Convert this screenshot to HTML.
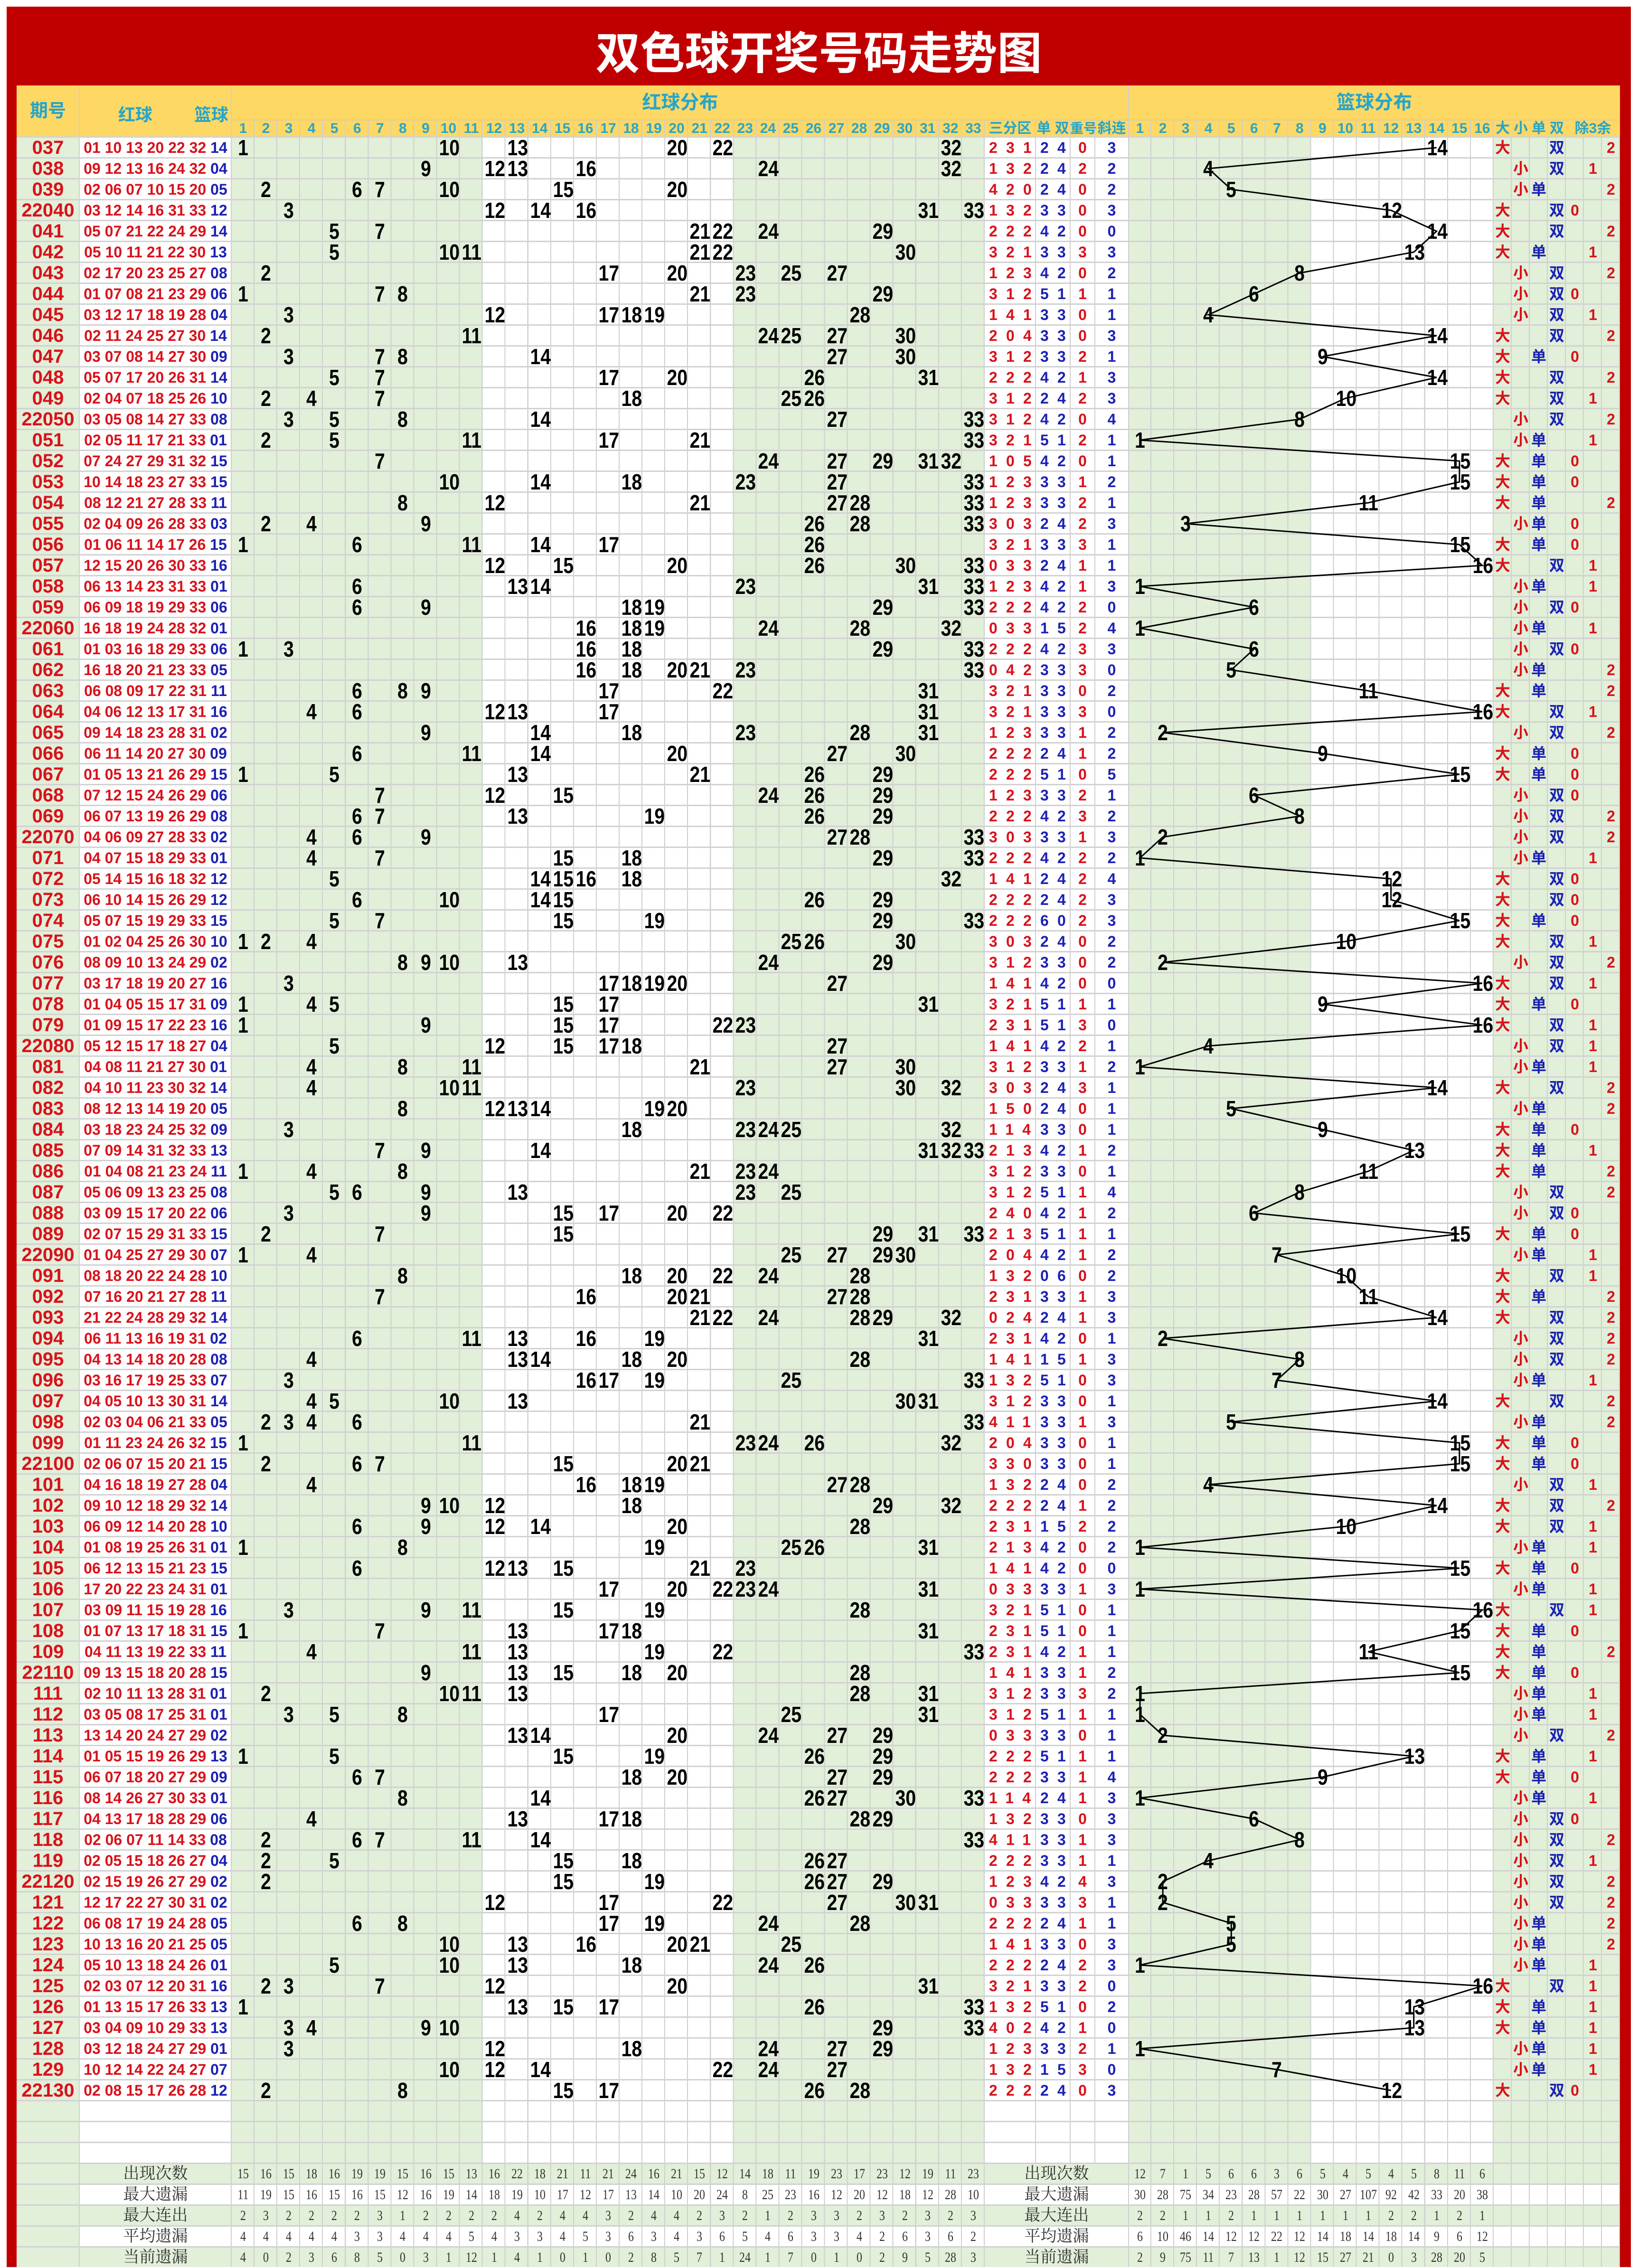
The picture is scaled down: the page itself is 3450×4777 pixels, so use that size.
<!DOCTYPE html>
<html><head><meta charset="utf-8">
<style>
body{margin:0;width:3450px;height:4775px;position:relative;overflow:hidden;background:#fff;font-family:"Liberation Sans","Noto Sans CJK SC",sans-serif}
.a{position:absolute}
.G{background:#e2efd9}.W{background:#fff}
#rows{position:absolute;left:0;top:289px;width:3450px}
.r{position:relative;height:44px}
.r>*{position:absolute;top:0;height:44px;line-height:44px;margin:0;text-align:center;font-style:normal;text-decoration:none;white-space:pre;font-weight:bold}
.r b{left:35px;width:132px;color:#d8121b;font-size:40px}
.r p{left:167px;width:321px;color:#d8121b;font-size:32px}
.r p u{color:#1b22b3;text-decoration:none}
.r i{width:48px;font-size:46px;color:#000;transform:scaleX(.85)}
.r s{left:2083px;text-align:left;font-size:32px;color:#d8121b;letter-spacing:18.2px}
.r s.v{left:2191px;color:#1b22b3}
.r kbd{left:2254px;width:52px;font-family:"Liberation Sans",sans-serif;font-size:32px;color:#d8121b}
.r var{left:2306px;width:71px;font-size:32px;color:#1b22b3}
.r em{width:38px;font-size:32px;font-family:"Liberation Sans","Noto Sans CJK SC",sans-serif}
.D{left:3146px;color:#d8121b}.X{left:3184px;color:#d8121b}.O{left:3222px;color:#1b22b3}.E{left:3260px;color:#1b22b3}
.m0{left:3298px;color:#d8121b}.m1{left:3336px;color:#d8121b}.m2{left:3374px;color:#d8121b}
.c1{left:488px}.c2{left:536.1px}.c3{left:584.1px}.c4{left:632.2px}.c5{left:680.2px}.c6{left:728.3px}.c7{left:776.4px}.c8{left:824.4px}.c9{left:872.5px}.c10{left:920.5px}.c11{left:968.6px}.c12{left:1016.7px}.c13{left:1064.7px}.c14{left:1112.8px}.c15{left:1160.8px}.c16{left:1208.9px}.c17{left:1257px}.c18{left:1305px}.c19{left:1353.1px}.c20{left:1401.1px}.c21{left:1449.2px}.c22{left:1497.3px}.c23{left:1545.3px}.c24{left:1593.4px}.c25{left:1641.4px}.c26{left:1689.5px}.c27{left:1737.6px}.c28{left:1785.6px}.c29{left:1833.7px}.c30{left:1881.7px}.c31{left:1929.8px}.c32{left:1977.9px}.c33{left:2025.9px}
.d1{left:2377px}.d2{left:2425.1px}.d3{left:2473.1px}.d4{left:2521.2px}.d5{left:2569.2px}.d6{left:2617.3px}.d7{left:2665.4px}.d8{left:2713.4px}.d9{left:2761.5px}.d10{left:2809.5px}.d11{left:2857.6px}.d12{left:2905.7px}.d13{left:2953.7px}.d14{left:3001.8px}.d15{left:3049.8px}.d16{left:3097.9px}
.h{position:absolute;left:0;top:253px;width:3450px;height:36px}
.h>*{position:absolute;top:0;height:36px;line-height:36px;text-align:center;color:#27a5c9;font-weight:bold;font-size:30px;font-style:normal;margin:0;white-space:nowrap}
.h i{width:48px}
.hd{position:absolute;color:#27a5c9;font-weight:bold;text-align:center;margin:0}
#st{position:absolute;left:0;top:4557px;width:3450px}
.t{position:relative;height:44px}
.t>*{position:absolute;top:0;height:44px;line-height:44px;text-align:center;font-family:"Liberation Serif","Noto Serif CJK SC",serif;font-size:30px;color:#333;margin:0;font-style:normal}
.t i{width:48px;transform:scaleX(.8)}
.t p{left:167px;width:321px;font-size:34px}
.t p.q{left:2074px;width:303px}
</style></head><body>
<div class="a" style="left:14px;top:14px;width:3421px;height:4761px;background:#c00000"></div>
<div class="a" style="left:14px;top:63px;width:3421px;height:100px;line-height:100px;text-align:center;color:#fff;font-weight:bold;font-size:94px">双色球开奖号码走势图</div>
<div class="a" style="left:35px;top:180px;width:3377px;height:109px;background:#fdd865"></div>
<div class="a G" style="left:35px;top:289px;width:132px;height:4486px"></div>
<div class="a W" style="left:167px;top:289px;width:321px;height:4268px"></div>
<div class="a G" style="left:488px;top:289px;width:529px;height:4268px"></div>
<div class="a W" style="left:1017px;top:289px;width:528px;height:4268px"></div>
<div class="a G" style="left:1545px;top:289px;width:529px;height:4268px"></div>
<div class="a W" style="left:2074px;top:289px;width:303px;height:4268px"></div>
<div class="a G" style="left:2377px;top:289px;width:384px;height:4268px"></div>
<div class="a W" style="left:2761px;top:289px;width:385px;height:4268px"></div>
<div class="a G" style="left:3146px;top:289px;width:266px;height:4268px"></div>
<div class="a G" style="left:167px;top:4557px;width:3245px;height:44px"></div>
<div class="a W" style="left:167px;top:4601px;width:3245px;height:44px"></div>
<div class="a G" style="left:167px;top:4645px;width:3245px;height:44px"></div>
<div class="a W" style="left:167px;top:4689px;width:3245px;height:44px"></div>
<div class="a G" style="left:167px;top:4733px;width:3245px;height:42px"></div>
<div class="a" style="left:488px;top:253px;width:1586px;height:4522px;background:repeating-linear-gradient(90deg,transparent 0 46px,#cfcfcf 46px 48.06px)"></div>
<div class="a" style="left:2377px;top:253px;width:769px;height:4522px;background:repeating-linear-gradient(90deg,transparent 0 46px,#cfcfcf 46px 48.06px)"></div>
<div class="a" style="left:3146px;top:289px;width:266px;height:4486px;background:repeating-linear-gradient(90deg,transparent 0 36px,#cfcfcf 36px 38px)"></div>
<div class="a" style="left:486px;top:180px;width:2px;height:4595px;background:#cfcfcf"></div>
<div class="a" style="left:166px;top:180px;width:2px;height:4595px;background:#cfcfcf"></div>
<div class="a" style="left:2180px;top:253px;width:2px;height:4304px;background:#cfcfcf"></div>
<div class="a" style="left:2253px;top:253px;width:2px;height:4304px;background:#cfcfcf"></div>
<div class="a" style="left:2305px;top:253px;width:2px;height:4304px;background:#cfcfcf"></div>
<div class="a" style="left:2376px;top:180px;width:2px;height:4595px;background:#cfcfcf"></div>
<div class="a" style="left:488px;top:252px;width:2924px;height:2px;background:#e3cf8a"></div>
<div class="a" style="left:35px;top:287px;width:3377px;height:4488px;background:repeating-linear-gradient(180deg,#d2d2d2 0 3px,transparent 3px 44px)"></div>
<div class="hd" style="left:35px;top:180px;width:132px;height:109px;line-height:109px;font-size:38px">期号</div>
<div class="hd" style="left:230px;top:220px;width:110px;line-height:44px;font-size:36px">红球</div>
<div class="hd" style="left:390px;top:220px;width:110px;line-height:44px;font-size:36px">篮球</div>
<div class="hd" style="left:488px;top:190px;width:1889px;line-height:52px;font-size:40px">红球分布</div>
<div class="hd" style="left:2377px;top:190px;width:1035px;line-height:52px;font-size:40px">篮球分布</div>
<div class="h"><i class="c1">1</i><i class="c2">2</i><i class="c3">3</i><i class="c4">4</i><i class="c5">5</i><i class="c6">6</i><i class="c7">7</i><i class="c8">8</i><i class="c9">9</i><i class="c10">10</i><i class="c11">11</i><i class="c12">12</i><i class="c13">13</i><i class="c14">14</i><i class="c15">15</i><i class="c16">16</i><i class="c17">17</i><i class="c18">18</i><i class="c19">19</i><i class="c20">20</i><i class="c21">21</i><i class="c22">22</i><i class="c23">23</i><i class="c24">24</i><i class="c25">25</i><i class="c26">26</i><i class="c27">27</i><i class="c28">28</i><i class="c29">29</i><i class="c30">30</i><i class="c31">31</i><i class="c32">32</i><i class="c33">33</i>
<span style="left:2074px;width:107px">三分区</span><span style="left:2181px;width:73px">单 双</span><span style="left:2254px;width:52px;font-size:28px">重号</span><span style="left:2306px;width:71px">斜连</span>
<i class="d1">1</i><i class="d2">2</i><i class="d3">3</i><i class="d4">4</i><i class="d5">5</i><i class="d6">6</i><i class="d7">7</i><i class="d8">8</i><i class="d9">9</i><i class="d10">10</i><i class="d11">11</i><i class="d12">12</i><i class="d13">13</i><i class="d14">14</i><i class="d15">15</i><i class="d16">16</i>
<span style="left:3146px;width:38px">大</span><span style="left:3184px;width:38px">小</span><span style="left:3222px;width:38px">单</span><span style="left:3260px;width:38px">双</span><span style="left:3298px;width:114px">除3余</span></div>
<svg class="a" style="left:0;top:0" width="3450" height="4775"><g transform="translate(2353,267) scale(48.06,44)"><polyline fill="none" stroke="#000" stroke-width="3" vector-effect="non-scaling-stroke" points="14,1 4,2 5,3 12,4 14,5 13,6 8,7 6,8 4,9 14,10 9,11 14,12 10,13 8,14 1,15 15,16 15,17 11,18 3,19 15,20 16,21 1,22 6,23 1,24 6,25 5,26 11,27 16,28 2,29 9,30 15,31 6,32 8,33 2,34 1,35 12,36 12,37 15,38 10,39 2,40 16,41 9,42 16,43 4,44 1,45 14,46 5,47 9,48 13,49 11,50 8,51 6,52 15,53 7,54 10,55 11,56 14,57 2,58 8,59 7,60 14,61 5,62 15,63 15,64 4,65 14,66 10,67 1,68 15,69 1,70 16,71 15,72 11,73 15,74 1,75 1,76 2,77 13,78 9,79 1,80 6,81 8,82 4,83 2,84 2,85 5,86 5,87 1,88 16,89 13,90 13,91 1,92 7,93 12,94"/></g></svg>
<div id="rows">
<div class="r"><b>037</b><p>01 10 13 20 22 32 <u>14</u></p><i class="c1">1</i><i class="c10">10</i><i class="c13">13</i><i class="c20">20</i><i class="c22">22</i><i class="c32">32</i><s>231</s><s class="v">24</s><kbd>0</kbd><var>3</var><i class="d14">14</i><em class="D">大</em><em class="E">双</em><em class="m2">2</em></div>
<div class="r"><b>038</b><p>09 12 13 16 24 32 <u>04</u></p><i class="c9">9</i><i class="c12">12</i><i class="c13">13</i><i class="c16">16</i><i class="c24">24</i><i class="c32">32</i><s>132</s><s class="v">24</s><kbd>2</kbd><var>2</var><i class="d4">4</i><em class="X">小</em><em class="E">双</em><em class="m1">1</em></div>
<div class="r"><b>039</b><p>02 06 07 10 15 20 <u>05</u></p><i class="c2">2</i><i class="c6">6</i><i class="c7">7</i><i class="c10">10</i><i class="c15">15</i><i class="c20">20</i><s>420</s><s class="v">24</s><kbd>0</kbd><var>2</var><i class="d5">5</i><em class="X">小</em><em class="O">单</em><em class="m2">2</em></div>
<div class="r"><b>22040</b><p>03 12 14 16 31 33 <u>12</u></p><i class="c3">3</i><i class="c12">12</i><i class="c14">14</i><i class="c16">16</i><i class="c31">31</i><i class="c33">33</i><s>132</s><s class="v">33</s><kbd>0</kbd><var>3</var><i class="d12">12</i><em class="D">大</em><em class="E">双</em><em class="m0">0</em></div>
<div class="r"><b>041</b><p>05 07 21 22 24 29 <u>14</u></p><i class="c5">5</i><i class="c7">7</i><i class="c21">21</i><i class="c22">22</i><i class="c24">24</i><i class="c29">29</i><s>222</s><s class="v">42</s><kbd>0</kbd><var>0</var><i class="d14">14</i><em class="D">大</em><em class="E">双</em><em class="m2">2</em></div>
<div class="r"><b>042</b><p>05 10 11 21 22 30 <u>13</u></p><i class="c5">5</i><i class="c10">10</i><i class="c11">11</i><i class="c21">21</i><i class="c22">22</i><i class="c30">30</i><s>321</s><s class="v">33</s><kbd>3</kbd><var>3</var><i class="d13">13</i><em class="D">大</em><em class="O">单</em><em class="m1">1</em></div>
<div class="r"><b>043</b><p>02 17 20 23 25 27 <u>08</u></p><i class="c2">2</i><i class="c17">17</i><i class="c20">20</i><i class="c23">23</i><i class="c25">25</i><i class="c27">27</i><s>123</s><s class="v">42</s><kbd>0</kbd><var>2</var><i class="d8">8</i><em class="X">小</em><em class="E">双</em><em class="m2">2</em></div>
<div class="r"><b>044</b><p>01 07 08 21 23 29 <u>06</u></p><i class="c1">1</i><i class="c7">7</i><i class="c8">8</i><i class="c21">21</i><i class="c23">23</i><i class="c29">29</i><s>312</s><s class="v">51</s><kbd>1</kbd><var>1</var><i class="d6">6</i><em class="X">小</em><em class="E">双</em><em class="m0">0</em></div>
<div class="r"><b>045</b><p>03 12 17 18 19 28 <u>04</u></p><i class="c3">3</i><i class="c12">12</i><i class="c17">17</i><i class="c18">18</i><i class="c19">19</i><i class="c28">28</i><s>141</s><s class="v">33</s><kbd>0</kbd><var>1</var><i class="d4">4</i><em class="X">小</em><em class="E">双</em><em class="m1">1</em></div>
<div class="r"><b>046</b><p>02 11 24 25 27 30 <u>14</u></p><i class="c2">2</i><i class="c11">11</i><i class="c24">24</i><i class="c25">25</i><i class="c27">27</i><i class="c30">30</i><s>204</s><s class="v">33</s><kbd>0</kbd><var>3</var><i class="d14">14</i><em class="D">大</em><em class="E">双</em><em class="m2">2</em></div>
<div class="r"><b>047</b><p>03 07 08 14 27 30 <u>09</u></p><i class="c3">3</i><i class="c7">7</i><i class="c8">8</i><i class="c14">14</i><i class="c27">27</i><i class="c30">30</i><s>312</s><s class="v">33</s><kbd>2</kbd><var>1</var><i class="d9">9</i><em class="D">大</em><em class="O">单</em><em class="m0">0</em></div>
<div class="r"><b>048</b><p>05 07 17 20 26 31 <u>14</u></p><i class="c5">5</i><i class="c7">7</i><i class="c17">17</i><i class="c20">20</i><i class="c26">26</i><i class="c31">31</i><s>222</s><s class="v">42</s><kbd>1</kbd><var>3</var><i class="d14">14</i><em class="D">大</em><em class="E">双</em><em class="m2">2</em></div>
<div class="r"><b>049</b><p>02 04 07 18 25 26 <u>10</u></p><i class="c2">2</i><i class="c4">4</i><i class="c7">7</i><i class="c18">18</i><i class="c25">25</i><i class="c26">26</i><s>312</s><s class="v">24</s><kbd>2</kbd><var>3</var><i class="d10">10</i><em class="D">大</em><em class="E">双</em><em class="m1">1</em></div>
<div class="r"><b>22050</b><p>03 05 08 14 27 33 <u>08</u></p><i class="c3">3</i><i class="c5">5</i><i class="c8">8</i><i class="c14">14</i><i class="c27">27</i><i class="c33">33</i><s>312</s><s class="v">42</s><kbd>0</kbd><var>4</var><i class="d8">8</i><em class="X">小</em><em class="E">双</em><em class="m2">2</em></div>
<div class="r"><b>051</b><p>02 05 11 17 21 33 <u>01</u></p><i class="c2">2</i><i class="c5">5</i><i class="c11">11</i><i class="c17">17</i><i class="c21">21</i><i class="c33">33</i><s>321</s><s class="v">51</s><kbd>2</kbd><var>1</var><i class="d1">1</i><em class="X">小</em><em class="O">单</em><em class="m1">1</em></div>
<div class="r"><b>052</b><p>07 24 27 29 31 32 <u>15</u></p><i class="c7">7</i><i class="c24">24</i><i class="c27">27</i><i class="c29">29</i><i class="c31">31</i><i class="c32">32</i><s>105</s><s class="v">42</s><kbd>0</kbd><var>1</var><i class="d15">15</i><em class="D">大</em><em class="O">单</em><em class="m0">0</em></div>
<div class="r"><b>053</b><p>10 14 18 23 27 33 <u>15</u></p><i class="c10">10</i><i class="c14">14</i><i class="c18">18</i><i class="c23">23</i><i class="c27">27</i><i class="c33">33</i><s>123</s><s class="v">33</s><kbd>1</kbd><var>2</var><i class="d15">15</i><em class="D">大</em><em class="O">单</em><em class="m0">0</em></div>
<div class="r"><b>054</b><p>08 12 21 27 28 33 <u>11</u></p><i class="c8">8</i><i class="c12">12</i><i class="c21">21</i><i class="c27">27</i><i class="c28">28</i><i class="c33">33</i><s>123</s><s class="v">33</s><kbd>2</kbd><var>1</var><i class="d11">11</i><em class="D">大</em><em class="O">单</em><em class="m2">2</em></div>
<div class="r"><b>055</b><p>02 04 09 26 28 33 <u>03</u></p><i class="c2">2</i><i class="c4">4</i><i class="c9">9</i><i class="c26">26</i><i class="c28">28</i><i class="c33">33</i><s>303</s><s class="v">24</s><kbd>2</kbd><var>3</var><i class="d3">3</i><em class="X">小</em><em class="O">单</em><em class="m0">0</em></div>
<div class="r"><b>056</b><p>01 06 11 14 17 26 <u>15</u></p><i class="c1">1</i><i class="c6">6</i><i class="c11">11</i><i class="c14">14</i><i class="c17">17</i><i class="c26">26</i><s>321</s><s class="v">33</s><kbd>3</kbd><var>1</var><i class="d15">15</i><em class="D">大</em><em class="O">单</em><em class="m0">0</em></div>
<div class="r"><b>057</b><p>12 15 20 26 30 33 <u>16</u></p><i class="c12">12</i><i class="c15">15</i><i class="c20">20</i><i class="c26">26</i><i class="c30">30</i><i class="c33">33</i><s>033</s><s class="v">24</s><kbd>1</kbd><var>1</var><i class="d16">16</i><em class="D">大</em><em class="E">双</em><em class="m1">1</em></div>
<div class="r"><b>058</b><p>06 13 14 23 31 33 <u>01</u></p><i class="c6">6</i><i class="c13">13</i><i class="c14">14</i><i class="c23">23</i><i class="c31">31</i><i class="c33">33</i><s>123</s><s class="v">42</s><kbd>1</kbd><var>3</var><i class="d1">1</i><em class="X">小</em><em class="O">单</em><em class="m1">1</em></div>
<div class="r"><b>059</b><p>06 09 18 19 29 33 <u>06</u></p><i class="c6">6</i><i class="c9">9</i><i class="c18">18</i><i class="c19">19</i><i class="c29">29</i><i class="c33">33</i><s>222</s><s class="v">42</s><kbd>2</kbd><var>0</var><i class="d6">6</i><em class="X">小</em><em class="E">双</em><em class="m0">0</em></div>
<div class="r"><b>22060</b><p>16 18 19 24 28 32 <u>01</u></p><i class="c16">16</i><i class="c18">18</i><i class="c19">19</i><i class="c24">24</i><i class="c28">28</i><i class="c32">32</i><s>033</s><s class="v">15</s><kbd>2</kbd><var>4</var><i class="d1">1</i><em class="X">小</em><em class="O">单</em><em class="m1">1</em></div>
<div class="r"><b>061</b><p>01 03 16 18 29 33 <u>06</u></p><i class="c1">1</i><i class="c3">3</i><i class="c16">16</i><i class="c18">18</i><i class="c29">29</i><i class="c33">33</i><s>222</s><s class="v">42</s><kbd>3</kbd><var>3</var><i class="d6">6</i><em class="X">小</em><em class="E">双</em><em class="m0">0</em></div>
<div class="r"><b>062</b><p>16 18 20 21 23 33 <u>05</u></p><i class="c16">16</i><i class="c18">18</i><i class="c20">20</i><i class="c21">21</i><i class="c23">23</i><i class="c33">33</i><s>042</s><s class="v">33</s><kbd>3</kbd><var>0</var><i class="d5">5</i><em class="X">小</em><em class="O">单</em><em class="m2">2</em></div>
<div class="r"><b>063</b><p>06 08 09 17 22 31 <u>11</u></p><i class="c6">6</i><i class="c8">8</i><i class="c9">9</i><i class="c17">17</i><i class="c22">22</i><i class="c31">31</i><s>321</s><s class="v">33</s><kbd>0</kbd><var>2</var><i class="d11">11</i><em class="D">大</em><em class="O">单</em><em class="m2">2</em></div>
<div class="r"><b>064</b><p>04 06 12 13 17 31 <u>16</u></p><i class="c4">4</i><i class="c6">6</i><i class="c12">12</i><i class="c13">13</i><i class="c17">17</i><i class="c31">31</i><s>321</s><s class="v">33</s><kbd>3</kbd><var>0</var><i class="d16">16</i><em class="D">大</em><em class="E">双</em><em class="m1">1</em></div>
<div class="r"><b>065</b><p>09 14 18 23 28 31 <u>02</u></p><i class="c9">9</i><i class="c14">14</i><i class="c18">18</i><i class="c23">23</i><i class="c28">28</i><i class="c31">31</i><s>123</s><s class="v">33</s><kbd>1</kbd><var>2</var><i class="d2">2</i><em class="X">小</em><em class="E">双</em><em class="m2">2</em></div>
<div class="r"><b>066</b><p>06 11 14 20 27 30 <u>09</u></p><i class="c6">6</i><i class="c11">11</i><i class="c14">14</i><i class="c20">20</i><i class="c27">27</i><i class="c30">30</i><s>222</s><s class="v">24</s><kbd>1</kbd><var>2</var><i class="d9">9</i><em class="D">大</em><em class="O">单</em><em class="m0">0</em></div>
<div class="r"><b>067</b><p>01 05 13 21 26 29 <u>15</u></p><i class="c1">1</i><i class="c5">5</i><i class="c13">13</i><i class="c21">21</i><i class="c26">26</i><i class="c29">29</i><s>222</s><s class="v">51</s><kbd>0</kbd><var>5</var><i class="d15">15</i><em class="D">大</em><em class="O">单</em><em class="m0">0</em></div>
<div class="r"><b>068</b><p>07 12 15 24 26 29 <u>06</u></p><i class="c7">7</i><i class="c12">12</i><i class="c15">15</i><i class="c24">24</i><i class="c26">26</i><i class="c29">29</i><s>123</s><s class="v">33</s><kbd>2</kbd><var>1</var><i class="d6">6</i><em class="X">小</em><em class="E">双</em><em class="m0">0</em></div>
<div class="r"><b>069</b><p>06 07 13 19 26 29 <u>08</u></p><i class="c6">6</i><i class="c7">7</i><i class="c13">13</i><i class="c19">19</i><i class="c26">26</i><i class="c29">29</i><s>222</s><s class="v">42</s><kbd>3</kbd><var>2</var><i class="d8">8</i><em class="X">小</em><em class="E">双</em><em class="m2">2</em></div>
<div class="r"><b>22070</b><p>04 06 09 27 28 33 <u>02</u></p><i class="c4">4</i><i class="c6">6</i><i class="c9">9</i><i class="c27">27</i><i class="c28">28</i><i class="c33">33</i><s>303</s><s class="v">33</s><kbd>1</kbd><var>3</var><i class="d2">2</i><em class="X">小</em><em class="E">双</em><em class="m2">2</em></div>
<div class="r"><b>071</b><p>04 07 15 18 29 33 <u>01</u></p><i class="c4">4</i><i class="c7">7</i><i class="c15">15</i><i class="c18">18</i><i class="c29">29</i><i class="c33">33</i><s>222</s><s class="v">42</s><kbd>2</kbd><var>2</var><i class="d1">1</i><em class="X">小</em><em class="O">单</em><em class="m1">1</em></div>
<div class="r"><b>072</b><p>05 14 15 16 18 32 <u>12</u></p><i class="c5">5</i><i class="c14">14</i><i class="c15">15</i><i class="c16">16</i><i class="c18">18</i><i class="c32">32</i><s>141</s><s class="v">24</s><kbd>2</kbd><var>4</var><i class="d12">12</i><em class="D">大</em><em class="E">双</em><em class="m0">0</em></div>
<div class="r"><b>073</b><p>06 10 14 15 26 29 <u>12</u></p><i class="c6">6</i><i class="c10">10</i><i class="c14">14</i><i class="c15">15</i><i class="c26">26</i><i class="c29">29</i><s>222</s><s class="v">24</s><kbd>2</kbd><var>3</var><i class="d12">12</i><em class="D">大</em><em class="E">双</em><em class="m0">0</em></div>
<div class="r"><b>074</b><p>05 07 15 19 29 33 <u>15</u></p><i class="c5">5</i><i class="c7">7</i><i class="c15">15</i><i class="c19">19</i><i class="c29">29</i><i class="c33">33</i><s>222</s><s class="v">60</s><kbd>2</kbd><var>3</var><i class="d15">15</i><em class="D">大</em><em class="O">单</em><em class="m0">0</em></div>
<div class="r"><b>075</b><p>01 02 04 25 26 30 <u>10</u></p><i class="c1">1</i><i class="c2">2</i><i class="c4">4</i><i class="c25">25</i><i class="c26">26</i><i class="c30">30</i><s>303</s><s class="v">24</s><kbd>0</kbd><var>2</var><i class="d10">10</i><em class="D">大</em><em class="E">双</em><em class="m1">1</em></div>
<div class="r"><b>076</b><p>08 09 10 13 24 29 <u>02</u></p><i class="c8">8</i><i class="c9">9</i><i class="c10">10</i><i class="c13">13</i><i class="c24">24</i><i class="c29">29</i><s>312</s><s class="v">33</s><kbd>0</kbd><var>2</var><i class="d2">2</i><em class="X">小</em><em class="E">双</em><em class="m2">2</em></div>
<div class="r"><b>077</b><p>03 17 18 19 20 27 <u>16</u></p><i class="c3">3</i><i class="c17">17</i><i class="c18">18</i><i class="c19">19</i><i class="c20">20</i><i class="c27">27</i><s>141</s><s class="v">42</s><kbd>0</kbd><var>0</var><i class="d16">16</i><em class="D">大</em><em class="E">双</em><em class="m1">1</em></div>
<div class="r"><b>078</b><p>01 04 05 15 17 31 <u>09</u></p><i class="c1">1</i><i class="c4">4</i><i class="c5">5</i><i class="c15">15</i><i class="c17">17</i><i class="c31">31</i><s>321</s><s class="v">51</s><kbd>1</kbd><var>1</var><i class="d9">9</i><em class="D">大</em><em class="O">单</em><em class="m0">0</em></div>
<div class="r"><b>079</b><p>01 09 15 17 22 23 <u>16</u></p><i class="c1">1</i><i class="c9">9</i><i class="c15">15</i><i class="c17">17</i><i class="c22">22</i><i class="c23">23</i><s>231</s><s class="v">51</s><kbd>3</kbd><var>0</var><i class="d16">16</i><em class="D">大</em><em class="E">双</em><em class="m1">1</em></div>
<div class="r"><b>22080</b><p>05 12 15 17 18 27 <u>04</u></p><i class="c5">5</i><i class="c12">12</i><i class="c15">15</i><i class="c17">17</i><i class="c18">18</i><i class="c27">27</i><s>141</s><s class="v">42</s><kbd>2</kbd><var>1</var><i class="d4">4</i><em class="X">小</em><em class="E">双</em><em class="m1">1</em></div>
<div class="r"><b>081</b><p>04 08 11 21 27 30 <u>01</u></p><i class="c4">4</i><i class="c8">8</i><i class="c11">11</i><i class="c21">21</i><i class="c27">27</i><i class="c30">30</i><s>312</s><s class="v">33</s><kbd>1</kbd><var>2</var><i class="d1">1</i><em class="X">小</em><em class="O">单</em><em class="m1">1</em></div>
<div class="r"><b>082</b><p>04 10 11 23 30 32 <u>14</u></p><i class="c4">4</i><i class="c10">10</i><i class="c11">11</i><i class="c23">23</i><i class="c30">30</i><i class="c32">32</i><s>303</s><s class="v">24</s><kbd>3</kbd><var>1</var><i class="d14">14</i><em class="D">大</em><em class="E">双</em><em class="m2">2</em></div>
<div class="r"><b>083</b><p>08 12 13 14 19 20 <u>05</u></p><i class="c8">8</i><i class="c12">12</i><i class="c13">13</i><i class="c14">14</i><i class="c19">19</i><i class="c20">20</i><s>150</s><s class="v">24</s><kbd>0</kbd><var>1</var><i class="d5">5</i><em class="X">小</em><em class="O">单</em><em class="m2">2</em></div>
<div class="r"><b>084</b><p>03 18 23 24 25 32 <u>09</u></p><i class="c3">3</i><i class="c18">18</i><i class="c23">23</i><i class="c24">24</i><i class="c25">25</i><i class="c32">32</i><s>114</s><s class="v">33</s><kbd>0</kbd><var>1</var><i class="d9">9</i><em class="D">大</em><em class="O">单</em><em class="m0">0</em></div>
<div class="r"><b>085</b><p>07 09 14 31 32 33 <u>13</u></p><i class="c7">7</i><i class="c9">9</i><i class="c14">14</i><i class="c31">31</i><i class="c32">32</i><i class="c33">33</i><s>213</s><s class="v">42</s><kbd>1</kbd><var>2</var><i class="d13">13</i><em class="D">大</em><em class="O">单</em><em class="m1">1</em></div>
<div class="r"><b>086</b><p>01 04 08 21 23 24 <u>11</u></p><i class="c1">1</i><i class="c4">4</i><i class="c8">8</i><i class="c21">21</i><i class="c23">23</i><i class="c24">24</i><s>312</s><s class="v">33</s><kbd>0</kbd><var>1</var><i class="d11">11</i><em class="D">大</em><em class="O">单</em><em class="m2">2</em></div>
<div class="r"><b>087</b><p>05 06 09 13 23 25 <u>08</u></p><i class="c5">5</i><i class="c6">6</i><i class="c9">9</i><i class="c13">13</i><i class="c23">23</i><i class="c25">25</i><s>312</s><s class="v">51</s><kbd>1</kbd><var>4</var><i class="d8">8</i><em class="X">小</em><em class="E">双</em><em class="m2">2</em></div>
<div class="r"><b>088</b><p>03 09 15 17 20 22 <u>06</u></p><i class="c3">3</i><i class="c9">9</i><i class="c15">15</i><i class="c17">17</i><i class="c20">20</i><i class="c22">22</i><s>240</s><s class="v">42</s><kbd>1</kbd><var>2</var><i class="d6">6</i><em class="X">小</em><em class="E">双</em><em class="m0">0</em></div>
<div class="r"><b>089</b><p>02 07 15 29 31 33 <u>15</u></p><i class="c2">2</i><i class="c7">7</i><i class="c15">15</i><i class="c29">29</i><i class="c31">31</i><i class="c33">33</i><s>213</s><s class="v">51</s><kbd>1</kbd><var>1</var><i class="d15">15</i><em class="D">大</em><em class="O">单</em><em class="m0">0</em></div>
<div class="r"><b>22090</b><p>01 04 25 27 29 30 <u>07</u></p><i class="c1">1</i><i class="c4">4</i><i class="c25">25</i><i class="c27">27</i><i class="c29">29</i><i class="c30">30</i><s>204</s><s class="v">42</s><kbd>1</kbd><var>2</var><i class="d7">7</i><em class="X">小</em><em class="O">单</em><em class="m1">1</em></div>
<div class="r"><b>091</b><p>08 18 20 22 24 28 <u>10</u></p><i class="c8">8</i><i class="c18">18</i><i class="c20">20</i><i class="c22">22</i><i class="c24">24</i><i class="c28">28</i><s>132</s><s class="v">06</s><kbd>0</kbd><var>2</var><i class="d10">10</i><em class="D">大</em><em class="E">双</em><em class="m1">1</em></div>
<div class="r"><b>092</b><p>07 16 20 21 27 28 <u>11</u></p><i class="c7">7</i><i class="c16">16</i><i class="c20">20</i><i class="c21">21</i><i class="c27">27</i><i class="c28">28</i><s>231</s><s class="v">33</s><kbd>1</kbd><var>3</var><i class="d11">11</i><em class="D">大</em><em class="O">单</em><em class="m2">2</em></div>
<div class="r"><b>093</b><p>21 22 24 28 29 32 <u>14</u></p><i class="c21">21</i><i class="c22">22</i><i class="c24">24</i><i class="c28">28</i><i class="c29">29</i><i class="c32">32</i><s>024</s><s class="v">24</s><kbd>1</kbd><var>3</var><i class="d14">14</i><em class="D">大</em><em class="E">双</em><em class="m2">2</em></div>
<div class="r"><b>094</b><p>06 11 13 16 19 31 <u>02</u></p><i class="c6">6</i><i class="c11">11</i><i class="c13">13</i><i class="c16">16</i><i class="c19">19</i><i class="c31">31</i><s>231</s><s class="v">42</s><kbd>0</kbd><var>1</var><i class="d2">2</i><em class="X">小</em><em class="E">双</em><em class="m2">2</em></div>
<div class="r"><b>095</b><p>04 13 14 18 20 28 <u>08</u></p><i class="c4">4</i><i class="c13">13</i><i class="c14">14</i><i class="c18">18</i><i class="c20">20</i><i class="c28">28</i><s>141</s><s class="v">15</s><kbd>1</kbd><var>3</var><i class="d8">8</i><em class="X">小</em><em class="E">双</em><em class="m2">2</em></div>
<div class="r"><b>096</b><p>03 16 17 19 25 33 <u>07</u></p><i class="c3">3</i><i class="c16">16</i><i class="c17">17</i><i class="c19">19</i><i class="c25">25</i><i class="c33">33</i><s>132</s><s class="v">51</s><kbd>0</kbd><var>3</var><i class="d7">7</i><em class="X">小</em><em class="O">单</em><em class="m1">1</em></div>
<div class="r"><b>097</b><p>04 05 10 13 30 31 <u>14</u></p><i class="c4">4</i><i class="c5">5</i><i class="c10">10</i><i class="c13">13</i><i class="c30">30</i><i class="c31">31</i><s>312</s><s class="v">33</s><kbd>0</kbd><var>1</var><i class="d14">14</i><em class="D">大</em><em class="E">双</em><em class="m2">2</em></div>
<div class="r"><b>098</b><p>02 03 04 06 21 33 <u>05</u></p><i class="c2">2</i><i class="c3">3</i><i class="c4">4</i><i class="c6">6</i><i class="c21">21</i><i class="c33">33</i><s>411</s><s class="v">33</s><kbd>1</kbd><var>3</var><i class="d5">5</i><em class="X">小</em><em class="O">单</em><em class="m2">2</em></div>
<div class="r"><b>099</b><p>01 11 23 24 26 32 <u>15</u></p><i class="c1">1</i><i class="c11">11</i><i class="c23">23</i><i class="c24">24</i><i class="c26">26</i><i class="c32">32</i><s>204</s><s class="v">33</s><kbd>0</kbd><var>1</var><i class="d15">15</i><em class="D">大</em><em class="O">单</em><em class="m0">0</em></div>
<div class="r"><b>22100</b><p>02 06 07 15 20 21 <u>15</u></p><i class="c2">2</i><i class="c6">6</i><i class="c7">7</i><i class="c15">15</i><i class="c20">20</i><i class="c21">21</i><s>330</s><s class="v">33</s><kbd>0</kbd><var>1</var><i class="d15">15</i><em class="D">大</em><em class="O">单</em><em class="m0">0</em></div>
<div class="r"><b>101</b><p>04 16 18 19 27 28 <u>04</u></p><i class="c4">4</i><i class="c16">16</i><i class="c18">18</i><i class="c19">19</i><i class="c27">27</i><i class="c28">28</i><s>132</s><s class="v">24</s><kbd>0</kbd><var>2</var><i class="d4">4</i><em class="X">小</em><em class="E">双</em><em class="m1">1</em></div>
<div class="r"><b>102</b><p>09 10 12 18 29 32 <u>14</u></p><i class="c9">9</i><i class="c10">10</i><i class="c12">12</i><i class="c18">18</i><i class="c29">29</i><i class="c32">32</i><s>222</s><s class="v">24</s><kbd>1</kbd><var>2</var><i class="d14">14</i><em class="D">大</em><em class="E">双</em><em class="m2">2</em></div>
<div class="r"><b>103</b><p>06 09 12 14 20 28 <u>10</u></p><i class="c6">6</i><i class="c9">9</i><i class="c12">12</i><i class="c14">14</i><i class="c20">20</i><i class="c28">28</i><s>231</s><s class="v">15</s><kbd>2</kbd><var>2</var><i class="d10">10</i><em class="D">大</em><em class="E">双</em><em class="m1">1</em></div>
<div class="r"><b>104</b><p>01 08 19 25 26 31 <u>01</u></p><i class="c1">1</i><i class="c8">8</i><i class="c19">19</i><i class="c25">25</i><i class="c26">26</i><i class="c31">31</i><s>213</s><s class="v">42</s><kbd>0</kbd><var>2</var><i class="d1">1</i><em class="X">小</em><em class="O">单</em><em class="m1">1</em></div>
<div class="r"><b>105</b><p>06 12 13 15 21 23 <u>15</u></p><i class="c6">6</i><i class="c12">12</i><i class="c13">13</i><i class="c15">15</i><i class="c21">21</i><i class="c23">23</i><s>141</s><s class="v">42</s><kbd>0</kbd><var>0</var><i class="d15">15</i><em class="D">大</em><em class="O">单</em><em class="m0">0</em></div>
<div class="r"><b>106</b><p>17 20 22 23 24 31 <u>01</u></p><i class="c17">17</i><i class="c20">20</i><i class="c22">22</i><i class="c23">23</i><i class="c24">24</i><i class="c31">31</i><s>033</s><s class="v">33</s><kbd>1</kbd><var>3</var><i class="d1">1</i><em class="X">小</em><em class="O">单</em><em class="m1">1</em></div>
<div class="r"><b>107</b><p>03 09 11 15 19 28 <u>16</u></p><i class="c3">3</i><i class="c9">9</i><i class="c11">11</i><i class="c15">15</i><i class="c19">19</i><i class="c28">28</i><s>321</s><s class="v">51</s><kbd>0</kbd><var>1</var><i class="d16">16</i><em class="D">大</em><em class="E">双</em><em class="m1">1</em></div>
<div class="r"><b>108</b><p>01 07 13 17 18 31 <u>15</u></p><i class="c1">1</i><i class="c7">7</i><i class="c13">13</i><i class="c17">17</i><i class="c18">18</i><i class="c31">31</i><s>231</s><s class="v">51</s><kbd>0</kbd><var>1</var><i class="d15">15</i><em class="D">大</em><em class="O">单</em><em class="m0">0</em></div>
<div class="r"><b>109</b><p>04 11 13 19 22 33 <u>11</u></p><i class="c4">4</i><i class="c11">11</i><i class="c13">13</i><i class="c19">19</i><i class="c22">22</i><i class="c33">33</i><s>231</s><s class="v">42</s><kbd>1</kbd><var>1</var><i class="d11">11</i><em class="D">大</em><em class="O">单</em><em class="m2">2</em></div>
<div class="r"><b>22110</b><p>09 13 15 18 20 28 <u>15</u></p><i class="c9">9</i><i class="c13">13</i><i class="c15">15</i><i class="c18">18</i><i class="c20">20</i><i class="c28">28</i><s>141</s><s class="v">33</s><kbd>1</kbd><var>2</var><i class="d15">15</i><em class="D">大</em><em class="O">单</em><em class="m0">0</em></div>
<div class="r"><b>111</b><p>02 10 11 13 28 31 <u>01</u></p><i class="c2">2</i><i class="c10">10</i><i class="c11">11</i><i class="c13">13</i><i class="c28">28</i><i class="c31">31</i><s>312</s><s class="v">33</s><kbd>3</kbd><var>2</var><i class="d1">1</i><em class="X">小</em><em class="O">单</em><em class="m1">1</em></div>
<div class="r"><b>112</b><p>03 05 08 17 25 31 <u>01</u></p><i class="c3">3</i><i class="c5">5</i><i class="c8">8</i><i class="c17">17</i><i class="c25">25</i><i class="c31">31</i><s>312</s><s class="v">51</s><kbd>1</kbd><var>1</var><i class="d1">1</i><em class="X">小</em><em class="O">单</em><em class="m1">1</em></div>
<div class="r"><b>113</b><p>13 14 20 24 27 29 <u>02</u></p><i class="c13">13</i><i class="c14">14</i><i class="c20">20</i><i class="c24">24</i><i class="c27">27</i><i class="c29">29</i><s>033</s><s class="v">33</s><kbd>0</kbd><var>1</var><i class="d2">2</i><em class="X">小</em><em class="E">双</em><em class="m2">2</em></div>
<div class="r"><b>114</b><p>01 05 15 19 26 29 <u>13</u></p><i class="c1">1</i><i class="c5">5</i><i class="c15">15</i><i class="c19">19</i><i class="c26">26</i><i class="c29">29</i><s>222</s><s class="v">51</s><kbd>1</kbd><var>1</var><i class="d13">13</i><em class="D">大</em><em class="O">单</em><em class="m1">1</em></div>
<div class="r"><b>115</b><p>06 07 18 20 27 29 <u>09</u></p><i class="c6">6</i><i class="c7">7</i><i class="c18">18</i><i class="c20">20</i><i class="c27">27</i><i class="c29">29</i><s>222</s><s class="v">33</s><kbd>1</kbd><var>4</var><i class="d9">9</i><em class="D">大</em><em class="O">单</em><em class="m0">0</em></div>
<div class="r"><b>116</b><p>08 14 26 27 30 33 <u>01</u></p><i class="c8">8</i><i class="c14">14</i><i class="c26">26</i><i class="c27">27</i><i class="c30">30</i><i class="c33">33</i><s>114</s><s class="v">24</s><kbd>1</kbd><var>3</var><i class="d1">1</i><em class="X">小</em><em class="O">单</em><em class="m1">1</em></div>
<div class="r"><b>117</b><p>04 13 17 18 28 29 <u>06</u></p><i class="c4">4</i><i class="c13">13</i><i class="c17">17</i><i class="c18">18</i><i class="c28">28</i><i class="c29">29</i><s>132</s><s class="v">33</s><kbd>0</kbd><var>3</var><i class="d6">6</i><em class="X">小</em><em class="E">双</em><em class="m0">0</em></div>
<div class="r"><b>118</b><p>02 06 07 11 14 33 <u>08</u></p><i class="c2">2</i><i class="c6">6</i><i class="c7">7</i><i class="c11">11</i><i class="c14">14</i><i class="c33">33</i><s>411</s><s class="v">33</s><kbd>1</kbd><var>3</var><i class="d8">8</i><em class="X">小</em><em class="E">双</em><em class="m2">2</em></div>
<div class="r"><b>119</b><p>02 05 15 18 26 27 <u>04</u></p><i class="c2">2</i><i class="c5">5</i><i class="c15">15</i><i class="c18">18</i><i class="c26">26</i><i class="c27">27</i><s>222</s><s class="v">33</s><kbd>1</kbd><var>1</var><i class="d4">4</i><em class="X">小</em><em class="E">双</em><em class="m1">1</em></div>
<div class="r"><b>22120</b><p>02 15 19 26 27 29 <u>02</u></p><i class="c2">2</i><i class="c15">15</i><i class="c19">19</i><i class="c26">26</i><i class="c27">27</i><i class="c29">29</i><s>123</s><s class="v">42</s><kbd>4</kbd><var>3</var><i class="d2">2</i><em class="X">小</em><em class="E">双</em><em class="m2">2</em></div>
<div class="r"><b>121</b><p>12 17 22 27 30 31 <u>02</u></p><i class="c12">12</i><i class="c17">17</i><i class="c22">22</i><i class="c27">27</i><i class="c30">30</i><i class="c31">31</i><s>033</s><s class="v">33</s><kbd>3</kbd><var>1</var><i class="d2">2</i><em class="X">小</em><em class="E">双</em><em class="m2">2</em></div>
<div class="r"><b>122</b><p>06 08 17 19 24 28 <u>05</u></p><i class="c6">6</i><i class="c8">8</i><i class="c17">17</i><i class="c19">19</i><i class="c24">24</i><i class="c28">28</i><s>222</s><s class="v">24</s><kbd>1</kbd><var>1</var><i class="d5">5</i><em class="X">小</em><em class="O">单</em><em class="m2">2</em></div>
<div class="r"><b>123</b><p>10 13 16 20 21 25 <u>05</u></p><i class="c10">10</i><i class="c13">13</i><i class="c16">16</i><i class="c20">20</i><i class="c21">21</i><i class="c25">25</i><s>141</s><s class="v">33</s><kbd>0</kbd><var>3</var><i class="d5">5</i><em class="X">小</em><em class="O">单</em><em class="m2">2</em></div>
<div class="r"><b>124</b><p>05 10 13 18 24 26 <u>01</u></p><i class="c5">5</i><i class="c10">10</i><i class="c13">13</i><i class="c18">18</i><i class="c24">24</i><i class="c26">26</i><s>222</s><s class="v">24</s><kbd>2</kbd><var>3</var><i class="d1">1</i><em class="X">小</em><em class="O">单</em><em class="m1">1</em></div>
<div class="r"><b>125</b><p>02 03 07 12 20 31 <u>16</u></p><i class="c2">2</i><i class="c3">3</i><i class="c7">7</i><i class="c12">12</i><i class="c20">20</i><i class="c31">31</i><s>321</s><s class="v">33</s><kbd>2</kbd><var>0</var><i class="d16">16</i><em class="D">大</em><em class="E">双</em><em class="m1">1</em></div>
<div class="r"><b>126</b><p>01 13 15 17 26 33 <u>13</u></p><i class="c1">1</i><i class="c13">13</i><i class="c15">15</i><i class="c17">17</i><i class="c26">26</i><i class="c33">33</i><s>132</s><s class="v">51</s><kbd>0</kbd><var>2</var><i class="d13">13</i><em class="D">大</em><em class="O">单</em><em class="m1">1</em></div>
<div class="r"><b>127</b><p>03 04 09 10 29 33 <u>13</u></p><i class="c3">3</i><i class="c4">4</i><i class="c9">9</i><i class="c10">10</i><i class="c29">29</i><i class="c33">33</i><s>402</s><s class="v">42</s><kbd>1</kbd><var>0</var><i class="d13">13</i><em class="D">大</em><em class="O">单</em><em class="m1">1</em></div>
<div class="r"><b>128</b><p>03 12 18 24 27 29 <u>01</u></p><i class="c3">3</i><i class="c12">12</i><i class="c18">18</i><i class="c24">24</i><i class="c27">27</i><i class="c29">29</i><s>123</s><s class="v">33</s><kbd>2</kbd><var>1</var><i class="d1">1</i><em class="X">小</em><em class="O">单</em><em class="m1">1</em></div>
<div class="r"><b>129</b><p>10 12 14 22 24 27 <u>07</u></p><i class="c10">10</i><i class="c12">12</i><i class="c14">14</i><i class="c22">22</i><i class="c24">24</i><i class="c27">27</i><s>132</s><s class="v">15</s><kbd>3</kbd><var>0</var><i class="d7">7</i><em class="X">小</em><em class="O">单</em><em class="m1">1</em></div>
<div class="r"><b>22130</b><p>02 08 15 17 26 28 <u>12</u></p><i class="c2">2</i><i class="c8">8</i><i class="c15">15</i><i class="c17">17</i><i class="c26">26</i><i class="c28">28</i><s>222</s><s class="v">24</s><kbd>0</kbd><var>3</var><i class="d12">12</i><em class="D">大</em><em class="E">双</em><em class="m0">0</em></div>
</div>
<div id="st">
<div class="t"><p>出现次数</p><i class="c1">15</i><i class="c2">16</i><i class="c3">15</i><i class="c4">18</i><i class="c5">16</i><i class="c6">19</i><i class="c7">19</i><i class="c8">15</i><i class="c9">16</i><i class="c10">15</i><i class="c11">13</i><i class="c12">16</i><i class="c13">22</i><i class="c14">18</i><i class="c15">21</i><i class="c16">11</i><i class="c17">21</i><i class="c18">24</i><i class="c19">16</i><i class="c20">21</i><i class="c21">15</i><i class="c22">12</i><i class="c23">14</i><i class="c24">18</i><i class="c25">11</i><i class="c26">19</i><i class="c27">23</i><i class="c28">17</i><i class="c29">23</i><i class="c30">12</i><i class="c31">19</i><i class="c32">11</i><i class="c33">23</i><p class="q">出现次数</p><i class="d1">12</i><i class="d2">7</i><i class="d3">1</i><i class="d4">5</i><i class="d5">6</i><i class="d6">6</i><i class="d7">3</i><i class="d8">6</i><i class="d9">5</i><i class="d10">4</i><i class="d11">5</i><i class="d12">4</i><i class="d13">5</i><i class="d14">8</i><i class="d15">11</i><i class="d16">6</i></div>
<div class="t"><p>最大遗漏</p><i class="c1">11</i><i class="c2">19</i><i class="c3">15</i><i class="c4">16</i><i class="c5">15</i><i class="c6">16</i><i class="c7">15</i><i class="c8">12</i><i class="c9">16</i><i class="c10">19</i><i class="c11">14</i><i class="c12">18</i><i class="c13">19</i><i class="c14">10</i><i class="c15">17</i><i class="c16">12</i><i class="c17">17</i><i class="c18">13</i><i class="c19">14</i><i class="c20">10</i><i class="c21">20</i><i class="c22">24</i><i class="c23">8</i><i class="c24">25</i><i class="c25">23</i><i class="c26">16</i><i class="c27">12</i><i class="c28">20</i><i class="c29">12</i><i class="c30">18</i><i class="c31">12</i><i class="c32">28</i><i class="c33">10</i><p class="q">最大遗漏</p><i class="d1">30</i><i class="d2">28</i><i class="d3">75</i><i class="d4">34</i><i class="d5">23</i><i class="d6">28</i><i class="d7">57</i><i class="d8">22</i><i class="d9">30</i><i class="d10">27</i><i class="d11">107</i><i class="d12">92</i><i class="d13">42</i><i class="d14">33</i><i class="d15">20</i><i class="d16">38</i></div>
<div class="t"><p>最大连出</p><i class="c1">2</i><i class="c2">3</i><i class="c3">2</i><i class="c4">2</i><i class="c5">2</i><i class="c6">2</i><i class="c7">3</i><i class="c8">1</i><i class="c9">2</i><i class="c10">2</i><i class="c11">2</i><i class="c12">2</i><i class="c13">4</i><i class="c14">2</i><i class="c15">4</i><i class="c16">4</i><i class="c17">3</i><i class="c18">2</i><i class="c19">4</i><i class="c20">4</i><i class="c21">2</i><i class="c22">3</i><i class="c23">2</i><i class="c24">1</i><i class="c25">2</i><i class="c26">3</i><i class="c27">3</i><i class="c28">2</i><i class="c29">3</i><i class="c30">2</i><i class="c31">3</i><i class="c32">2</i><i class="c33">3</i><p class="q">最大连出</p><i class="d1">2</i><i class="d2">2</i><i class="d3">1</i><i class="d4">1</i><i class="d5">2</i><i class="d6">1</i><i class="d7">1</i><i class="d8">1</i><i class="d9">1</i><i class="d10">1</i><i class="d11">1</i><i class="d12">2</i><i class="d13">2</i><i class="d14">1</i><i class="d15">2</i><i class="d16">1</i></div>
<div class="t"><p>平均遗漏</p><i class="c1">4</i><i class="c2">4</i><i class="c3">4</i><i class="c4">4</i><i class="c5">4</i><i class="c6">3</i><i class="c7">3</i><i class="c8">4</i><i class="c9">4</i><i class="c10">4</i><i class="c11">5</i><i class="c12">4</i><i class="c13">3</i><i class="c14">3</i><i class="c15">4</i><i class="c16">5</i><i class="c17">3</i><i class="c18">6</i><i class="c19">3</i><i class="c20">4</i><i class="c21">3</i><i class="c22">6</i><i class="c23">5</i><i class="c24">4</i><i class="c25">6</i><i class="c26">3</i><i class="c27">3</i><i class="c28">4</i><i class="c29">2</i><i class="c30">6</i><i class="c31">3</i><i class="c32">6</i><i class="c33">2</i><p class="q">平均遗漏</p><i class="d1">6</i><i class="d2">10</i><i class="d3">46</i><i class="d4">14</i><i class="d5">12</i><i class="d6">12</i><i class="d7">22</i><i class="d8">12</i><i class="d9">14</i><i class="d10">18</i><i class="d11">14</i><i class="d12">18</i><i class="d13">14</i><i class="d14">9</i><i class="d15">6</i><i class="d16">12</i></div>
<div class="t"><p>当前遗漏</p><i class="c1">4</i><i class="c2">0</i><i class="c3">2</i><i class="c4">3</i><i class="c5">6</i><i class="c6">8</i><i class="c7">5</i><i class="c8">0</i><i class="c9">3</i><i class="c10">1</i><i class="c11">12</i><i class="c12">1</i><i class="c13">4</i><i class="c14">1</i><i class="c15">0</i><i class="c16">1</i><i class="c17">0</i><i class="c18">2</i><i class="c19">8</i><i class="c20">5</i><i class="c21">7</i><i class="c22">1</i><i class="c23">24</i><i class="c24">1</i><i class="c25">7</i><i class="c26">0</i><i class="c27">1</i><i class="c28">0</i><i class="c29">2</i><i class="c30">9</i><i class="c31">5</i><i class="c32">28</i><i class="c33">3</i><p class="q">当前遗漏</p><i class="d1">2</i><i class="d2">9</i><i class="d3">75</i><i class="d4">11</i><i class="d5">7</i><i class="d6">13</i><i class="d7">1</i><i class="d8">12</i><i class="d9">15</i><i class="d10">27</i><i class="d11">21</i><i class="d12">0</i><i class="d13">3</i><i class="d14">28</i><i class="d15">20</i><i class="d16">5</i></div>
</div>
</body></html>
